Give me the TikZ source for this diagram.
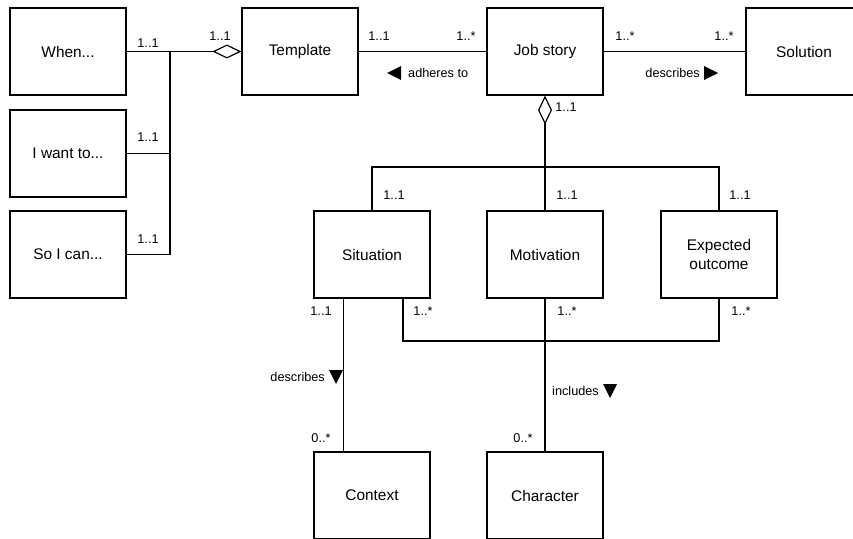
\documentclass[tikz,border=0pt]{standalone}
\usepackage{fontspec}
\setmainfont{Liberation Sans}
\usetikzlibrary{arrows.meta}

\tikzset{
  cls/.style={draw, line width=1.2pt, minimum width=116pt, minimum height=87pt,
              inner sep=2pt, align=center, font=\fontsize{15.4}{18.5}\selectfont},
  conn/.style={line width=1.2pt},
  aggr/.style={conn, -{Diamond[open, length=29pt, width=14pt, line width=1.2pt]}},
  mult/.style={font=\fontsize{12.7}{15}\selectfont, inner sep=0pt},
  role/.style={font=\fontsize{12.7}{15}\selectfont, inner sep=0pt},
  dirmark/.style={fill=black, draw=none}
}

\begin{document}
\begin{tikzpicture}[x=1pt, y=-1pt]
  \clip (0,0) rectangle (853,538);
  \fill[white] (0,0) rectangle (853,538);

  % classes
  \node[cls] (when)      at (68,51.5)   {When...};
  \node[cls] (iwant)     at (68,153.5)  {I want to...};
  \node[cls] (socan)     at (68,254.5)  {So I can...};
  \node[cls] (template)  at (300,51.5)  {Template};
  \node[cls] (jobstory)  at (545,51.5)  {Job story};
  \node[cls] (solution)  at (804,51.5)  {Solution};
  \node[cls] (situation) at (372,254.5) {Situation};
  \node[cls] (motivation)at (545,254.5) {Motivation};
  \node[cls] (expected)  at (719,254.5) {Expected\\outcome};
  \node[cls] (context)   at (372,495.5) {Context};
  \node[cls] (character) at (545,495.5) {Character};

  % template parts joined on one bus
  \coordinate (tbus) at (170,51.5);
  \draw[aggr] (when.east) -- (template.west);
  \draw[conn] (iwant.east) -| (tbus);
  \draw[conn] (socan.east) -| (tbus);

  % associations along the top row
  \draw[conn] (template.east) -- (jobstory.west);
  \draw[conn] (jobstory.east) -- (solution.west);

  % job story parts
  \coordinate (jbus) at (545,167);
  \draw[aggr] (jbus) -- (jobstory.south);
  \draw[conn] (situation.north) |- (jbus) -| (expected.north);
  \draw[conn] (motivation.north) -- (jbus);

  % lower associations
  \draw[conn] ([xshift=30pt]situation.south west) -- ([xshift=30pt]context.north west);
  \coordinate (cbus) at (403,341);
  \draw[conn] (situation.south -| cbus) -- (cbus) -| (expected.south);
  \draw[conn] (motivation.south) -- (character.north);

  % multiplicities
  \node[mult] (m1) at (148,43)  {1..1};
  \node[mult] (m2) at (220,36)  {1..1};
  \node[mult] (m3) at (148,137) {1..1};
  \node[mult] (m4) at (148,239) {1..1};
  \node[mult] (m5) at (379,36)  {1..1};
  \node[mult] (m6) at (466,36)  {1..*};
  \node[mult] (m7) at (625,36)  {1..*};
  \node[mult] (m8) at (724,36)  {1..*};
  \node[mult] (m9) at (566,107) {1..1};
  \node[mult] (m10) at (394,195) {1..1};
  \node[mult] (m11) at (567,195) {1..1};
  \node[mult] (m12) at (740,195) {1..1};
  \node[mult] (m13) at (321,311) {1..1};
  \node[mult] (m14) at (423,311) {1..*};
  \node[mult] (m15) at (567,311) {1..*};
  \node[mult] (m16) at (741,311) {1..*};
  \node[mult] (m17) at (321,438) {0..*};
  \node[mult] (m18) at (523,438) {0..*};

  % role names with reading direction marks
  \node[role, anchor=west] (adheres) at (408,73) {adheres to};
  \fill[dirmark] ([xshift=-21pt]adheres.west) -- ++(14,-7) -- ++(0,14) -- cycle;
  \node[role, anchor=east] (descr1) at (700,73) {describes};
  \fill[dirmark] ([xshift=4pt, yshift=7pt]descr1.east) -- ++(14,7) -- ++(-14,7) -- cycle;
  \node[role, anchor=east] (descr2) at (325,377) {describes};
  \fill[dirmark] ([xshift=4pt, yshift=7pt]descr2.east) -- ++(14,0) -- ++(-7,14) -- cycle;
  \node[role, anchor=west] (includes) at (552,391) {includes};
  \fill[dirmark] ([xshift=4pt, yshift=7pt]includes.east) -- ++(14,0) -- ++(-7,14) -- cycle;
\end{tikzpicture}
\end{document}
